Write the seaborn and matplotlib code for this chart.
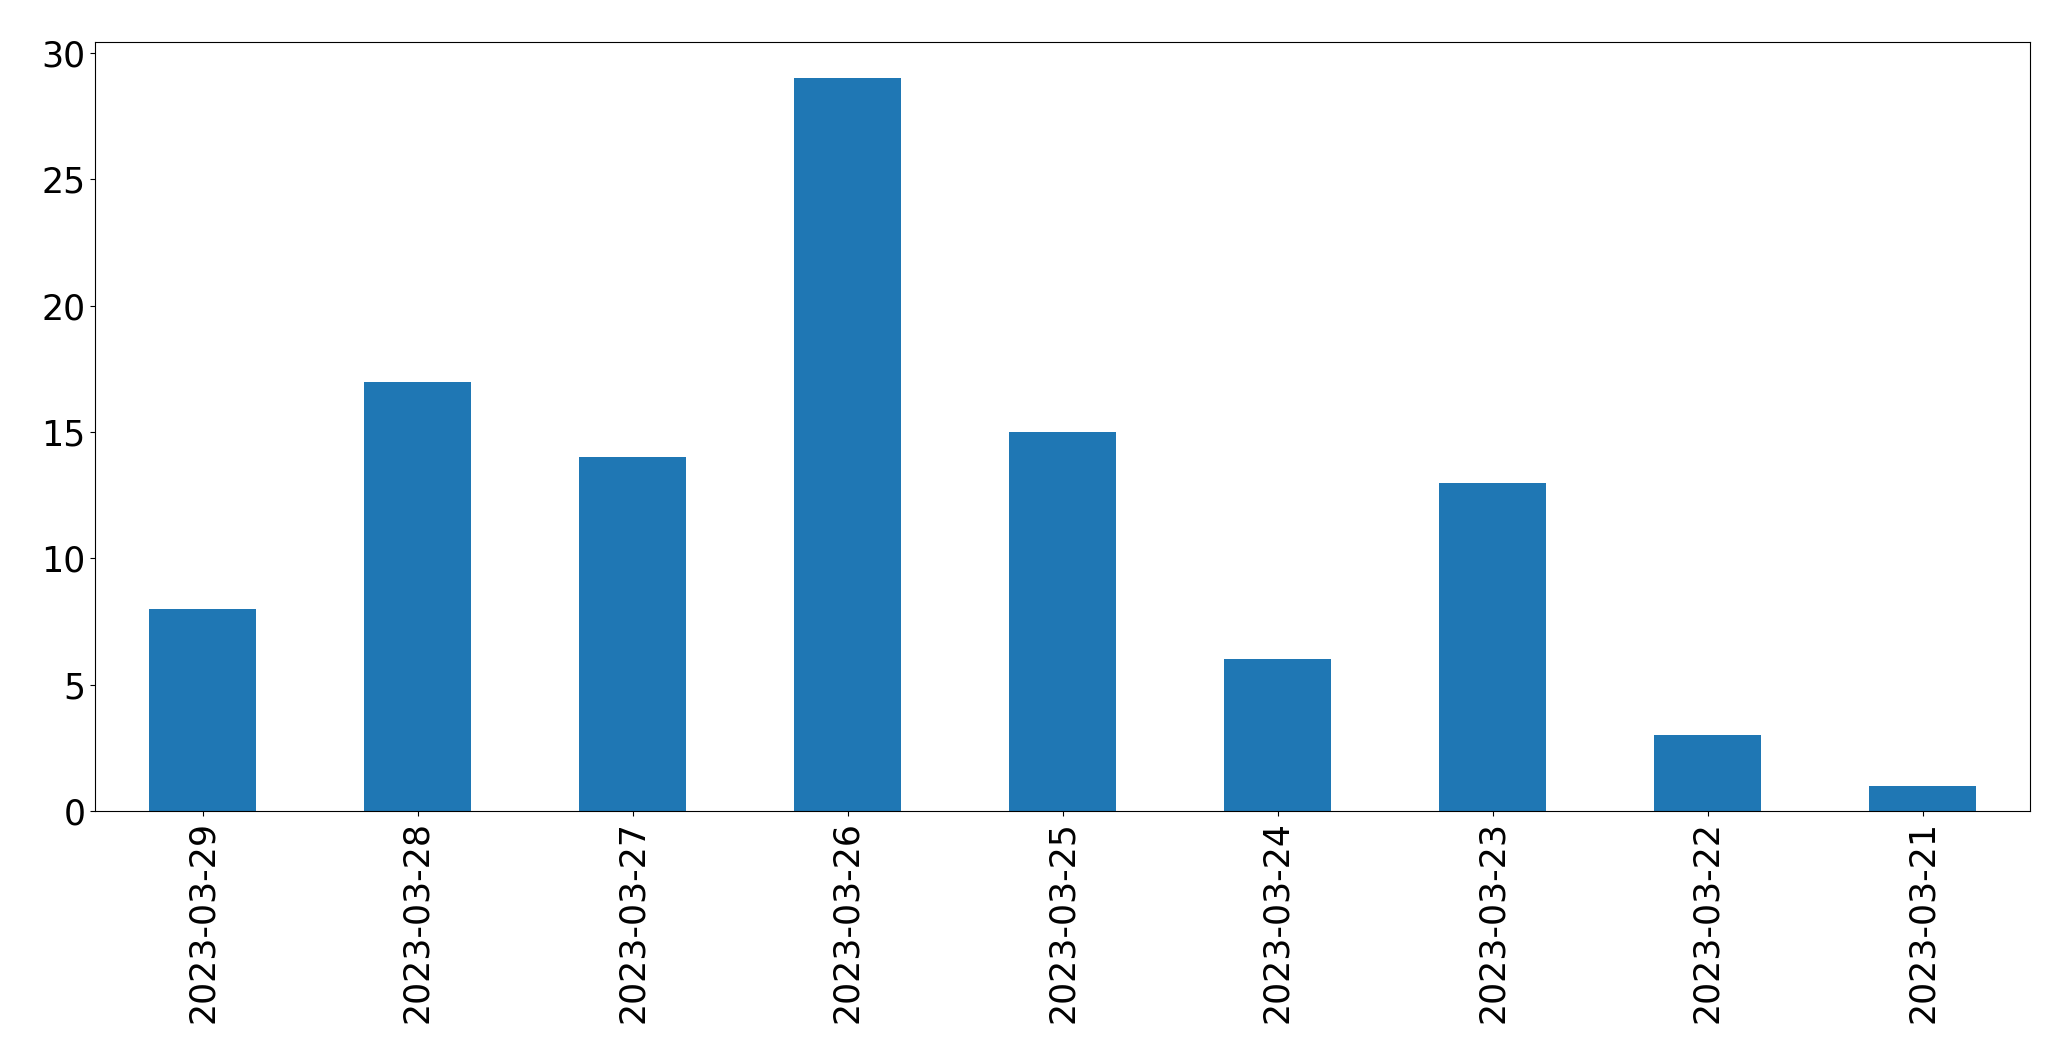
import matplotlib
matplotlib.use("Agg")
import matplotlib.pyplot as plt
import seaborn as sns
import pandas as pd

dates = ["2023-03-29", "2023-03-28", "2023-03-27", "2023-03-26", "2023-03-25",
         "2023-03-24", "2023-03-23", "2023-03-22", "2023-03-21"]
counts = [8, 17, 14, 29, 15, 6, 13, 3, 1]

df = pd.DataFrame({"date": dates, "count": counts})

plt.rcParams["font.family"] = ["DejaVu Sans"]
plt.rcParams["font.size"] = 25

fig = plt.figure(figsize=(20.71, 10.63), dpi=100)
ax = fig.add_axes([95 / 2071, 1 - 811 / 1063, (2030 - 95) / 2071, (811 - 41.7) / 1063])
sns.barplot(data=df, x="date", y="count", order=dates, color="#1f77b4",
            saturation=1, width=0.5, ax=ax)
ax.set_xlim(-0.5, len(dates) - 0.5)
ax.set_ylim(0, max(counts) * 1.05)
ax.set_xlabel("")
ax.set_ylabel("")
ax.tick_params(axis="both", labelsize=25, colors="black")
ax.tick_params(axis="x", labelrotation=90)
for s in ax.spines.values():
    s.set_visible(True)
    s.set_color("black")
fig.savefig("out.png", dpi=100)
